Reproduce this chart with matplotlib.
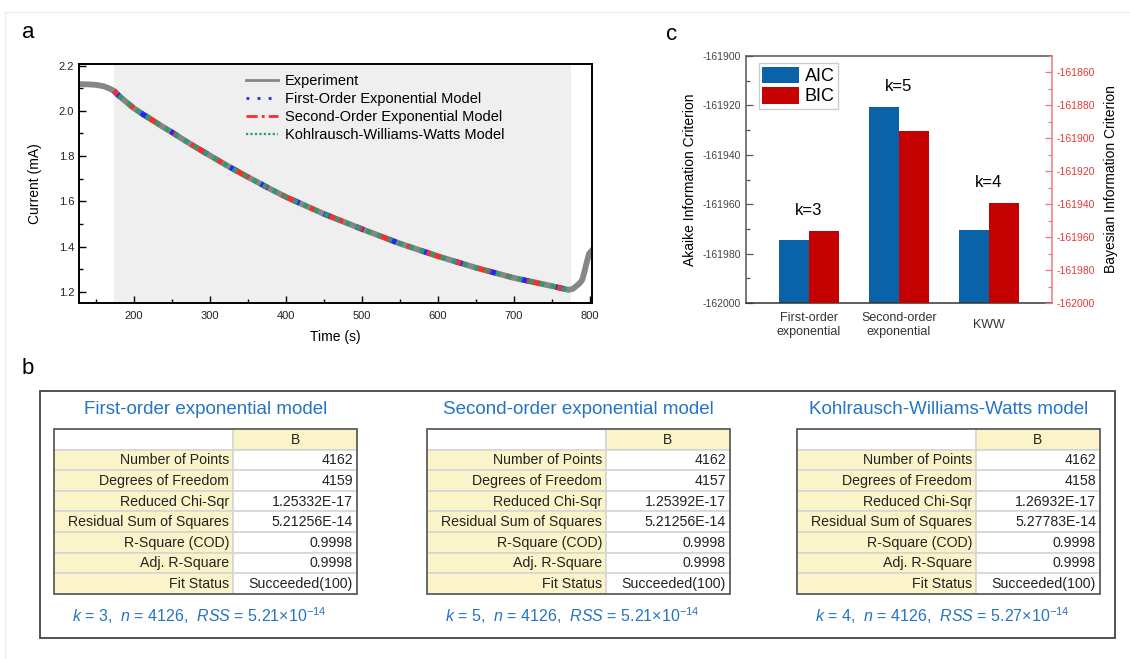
import numpy as np
import matplotlib
matplotlib.use('Agg')
import matplotlib.pyplot as plt
import matplotlib.ticker as mticker
from matplotlib.patches import Rectangle
from matplotlib.lines import Line2D

plt.rcParams['font.family'] = ['Liberation Sans', 'DejaVu Sans']
plt.rcParams['mathtext.fontset'] = 'custom'
plt.rcParams['mathtext.rm'] = 'Liberation Sans'
plt.rcParams['mathtext.it'] = 'Liberation Sans:italic'

# (a) current transient and the fitted window
EXP_TIME = [128, 140, 150, 160, 168, 174, 180, 190, 200, 212, 225, 237, 250,
            262, 275, 300, 325, 350, 375, 400, 450, 500, 550, 600, 650, 700,
            750, 772, 778, 786, 790, 793, 796, 799, 805]
EXP_CURRENT = [2.118, 2.117, 2.115, 2.109, 2.099, 2.088, 2.068, 2.040, 2.012,
               1.985, 1.958, 1.932, 1.906, 1.880, 1.853, 1.803, 1.754, 1.708,
               1.663, 1.620, 1.545, 1.478, 1.414, 1.358, 1.307, 1.262, 1.226,
               1.209, 1.214, 1.236, 1.252, 1.288, 1.330, 1.368, 1.392]
FIT_WINDOW = (174, 775)
FIT_RANGE = (174, 772)
FIT_NAMES = ['First-Order Exponential Model', 'Second-Order Exponential Model',
             'Kohlrausch-Williams-Watts Model']

# (b) fit statistics
TABLE_TITLES = ['First-order exponential model', 'Second-order exponential model',
                'Kohlrausch-Williams-Watts model']
ROW_NAMES = ['Number of Points', 'Degrees of Freedom', 'Reduced Chi-Sqr',
             'Residual Sum of Squares', 'R-Square (COD)', 'Adj. R-Square', 'Fit Status']
TABLE_VALUES = [
    ['4162', '4159', '1.25332E-17', '5.21256E-14', '0.9998', '0.9998', 'Succeeded(100)'],
    ['4162', '4157', '1.25392E-17', '5.21256E-14', '0.9998', '0.9998', 'Succeeded(100)'],
    ['4162', '4158', '1.26932E-17', '5.27783E-14', '0.9998', '0.9998', 'Succeeded(100)'],
]
K_PARAMS = [3, 5, 4]
N_USED = 4126
RSS_MANTISSA = ['5.21', '5.21', '5.27']

# (c) information criteria
MODELS = ['First-order\nexponential', 'Second-order\nexponential', 'KWW']
AIC = [-161974.3, -161920.5, -161970.5]
BIC = [-161956.0, -161895.8, -161939.2]

W_PX, H_PX = 1130, 659
BLUE_TXT = '#2474c4'
YELLOW = '#faf4c8'
GRID = '#d6d6d6'


def px_axes(fig, left, top, right, bottom, **kw):
    """Add axes from pixel edges measured from the top-left corner."""
    return fig.add_axes([left / W_PX, 1 - bottom / H_PX,
                         (right - left) / W_PX, (bottom - top) / H_PX], **kw)


fig = plt.figure(figsize=(W_PX / 100, H_PX / 100), dpi=100)

# Full-figure overlay in pixel units for the tables and panel letters.
ov = fig.add_axes([0, 0, 1, 1], zorder=-1)
ov.set_xlim(0, W_PX)
ov.set_ylim(H_PX, 0)
ov.axis('off')
ov.plot([5, W_PX], [12, 12], color='#ececec', lw=1)
ov.plot([5, 5], [12, H_PX], color='#ececec', lw=1)
ov.text(28, 33, 'a', fontsize=16, ha='center', va='center')
ov.text(28, 369, 'b', fontsize=16, ha='center', va='center')
ov.text(672, 35, 'c', fontsize=16, ha='center', va='center')

# ---- panel a ----
ax_a = px_axes(fig, 79, 64, 592, 303)
ax_a.axvspan(*FIT_WINDOW, color='#efefef', lw=0, zorder=0)
t = np.array(EXP_TIME)
cur = np.array(EXP_CURRENT)
ax_a.plot(t, cur, color='#868686', lw=4.2, solid_capstyle='round', zorder=2)

sel = (t >= FIT_RANGE[0]) & (t <= FIT_RANGE[1])
fit_styles = [('#1c28ff', 3.8, (0, (1.6, 5.0))),
              ('#ff2a2a', 3.6, (2.0, (3.0, 3.2, 1.0, 3.2))),
              ('#2e9a6c', 3.4, (1.0, (1.0, 1.4)))]
for color, lw, ls in fit_styles:
    ax_a.plot(t[sel], cur[sel], color=color, lw=lw, linestyle=ls, zorder=3)

handles = [Line2D([], [], color='#868686', lw=2)]
handles += [Line2D([], [], color='#1c28ff', lw=2, linestyle=(0, (1, 3))),
            Line2D([], [], color='#ff2a2a', lw=2, linestyle=(0, (4, 1.5, 1, 1.5))),
            Line2D([], [], color='#2e9a6c', lw=1.6, linestyle=(0, (1, 1)))]
ax_a.legend(handles, ['Experiment'] + FIT_NAMES, loc='upper left',
            bbox_to_anchor=(0.305, 1.0), frameon=False, fontsize=10.5,
            handlelength=2.2, handletextpad=0.5, labelspacing=0.28, borderaxespad=0.3)

ax_a.set_xlim(128, 803)
ax_a.set_ylim(1.151, 2.207)
ax_a.xaxis.set_major_locator(mticker.MultipleLocator(100))
ax_a.xaxis.set_minor_locator(mticker.MultipleLocator(50))
ax_a.yaxis.set_major_locator(mticker.MultipleLocator(0.2))
ax_a.yaxis.set_minor_locator(mticker.MultipleLocator(0.1))
ax_a.yaxis.set_major_formatter(mticker.FormatStrFormatter('%.1f'))
ax_a.tick_params(which='both', direction='in', top=False, right=False,
                 labelsize=8, width=1, labelcolor='#222')
ax_a.tick_params(which='major', length=5)
ax_a.tick_params(axis='x', pad=6)
ax_a.tick_params(which='minor', length=3)
for s in ax_a.spines.values():
    s.set_linewidth(1.4)
ax_a.set_xlabel('Time (s)', fontsize=10, labelpad=6)
ax_a.set_ylabel('Current (mA)', fontsize=10, labelpad=12)

# ---- panel c ----
ax_c = px_axes(fig, 746, 56, 1052, 303)
ax_r = ax_c.twinx()
x = np.arange(len(MODELS))
w = 1 / 3
base = -162000
aic_bars = ax_c.bar(x - w / 2, np.array(AIC) - base, w, bottom=base,
                    color='#0a63a8', zorder=2)
bic_bars = ax_r.bar(x + w / 2, np.array(BIC) - base, w, bottom=base,
                    color='#c40000', zorder=2)
ax_c.set_xlim(-0.7, 2.7)
ax_c.set_ylim(-162000, -161900)
ax_r.set_ylim(-162000, -161850)

for ax in (ax_c, ax_r):
    ax.yaxis.set_major_locator(mticker.MultipleLocator(20))
    ax.yaxis.set_minor_locator(mticker.MultipleLocator(10))
    ax.yaxis.set_major_formatter(mticker.FormatStrFormatter('%d'))

ax_c.tick_params(axis='y', which='both', direction='in', labelsize=7.5,
                 labelcolor='#444', color='#555', width=0.9)
ax_c.tick_params(axis='y', which='major', length=5)
ax_c.tick_params(axis='y', which='minor', length=3)
ax_r.tick_params(axis='y', which='both', direction='in', labelsize=7.5,
                 labelcolor='#e03a3a', color='#f07a7a', width=0.9)
ax_r.tick_params(axis='y', which='major', length=5)
ax_r.tick_params(axis='y', which='minor', length=3)

ax_c.set_xticks(x)
ax_c.set_xticklabels(MODELS, fontsize=9, color='#333', linespacing=1.25)
ax_c.tick_params(axis='x', length=0, pad=16)
plt.setp(ax_c.get_xticklabels(), va='center')

ax_c.spines['right'].set_visible(False)
for side in ('left', 'top', 'bottom'):
    ax_r.spines[side].set_visible(False)
ax_c.spines['left'].set_color('#555')
ax_c.spines['top'].set_color('#555')
ax_c.spines['bottom'].set_color('#333')
ax_r.spines['right'].set_color('#f07a7a')
for s in list(ax_c.spines.values()) + [ax_r.spines['right']]:
    s.set_linewidth(1.1)

ax_c.set_ylabel('Akaike Information Criterion', fontsize=10, labelpad=4)
ax_r.set_ylabel('Bayesian Information Criterion', fontsize=10, labelpad=6)

# parameter count above the taller bar of each pair
for xi, k, a, b in zip(x, K_PARAMS, AIC, BIC):
    top = max((a - base) / 100, (b - base) / 150)
    ax_r.annotate(f'k={k}', xy=(xi, top), xycoords=('data', 'axes fraction'),
                  xytext=(0, 14.5), textcoords='offset points',
                  ha='center', va='center', fontsize=12)

ax_r.legend([aic_bars, bic_bars], ['AIC', 'BIC'], loc='upper left',
            bbox_to_anchor=(0.042, 0.972), borderaxespad=0, fontsize=13,
            handlelength=2.0, handleheight=1.05, handletextpad=0.35,
            labelspacing=0.1, borderpad=0.2, fancybox=False,
            edgecolor='#cccccc', framealpha=1)

# ---- panel b ----
ov.add_patch(Rectangle((40, 391), 1075, 247, fill=False, ec='#444', lw=1.3))
TABLE_LEFTS = [54, 427, 797]
TAB_W, LAB_W, ROW_H, TAB_TOP = 303, 179, 20.6, 429
for j, left in enumerate(TABLE_LEFTS):
    cx = left + TAB_W / 2
    ov.text(cx, 409, TABLE_TITLES[j], color=BLUE_TXT, fontsize=13.5,
            ha='center', va='center')
    rows = [('', 'B')] + list(zip(ROW_NAMES, TABLE_VALUES[j]))
    for i, (name, val) in enumerate(rows):
        y = TAB_TOP + i * ROW_H
        ov.add_patch(Rectangle((left, y), LAB_W, ROW_H,
                               fc='white' if i == 0 else YELLOW, ec=GRID, lw=1.2))
        ov.add_patch(Rectangle((left + LAB_W, y), TAB_W - LAB_W, ROW_H,
                               fc=YELLOW if i == 0 else 'white', ec=GRID, lw=1.2))
        yc = y + ROW_H / 2 + 0.5
        if i == 0:
            ov.text(left + LAB_W + (TAB_W - LAB_W) / 2, yc, val, fontsize=10,
                    ha='center', va='center', color='#222')
        else:
            ov.text(left + LAB_W - 4, yc, name, fontsize=10.2,
                    ha='right', va='center', color='#222')
            ov.text(left + TAB_W - 4, yc, val, fontsize=10.2,
                    ha='right', va='center', color='#222')
    ov.add_patch(Rectangle((left, TAB_TOP), TAB_W, len(rows) * ROW_H,
                           fill=False, ec='#555', lw=1.2))
    footer = (rf'$k$ = {K_PARAMS[j]},  $n$ = {N_USED},  $RSS$ = '
              rf'{RSS_MANTISSA[j]}×10$^{{-14}}$')
    ov.text(cx - 6, 616, footer, color=BLUE_TXT, fontsize=11.5,
            ha='center', va='center')

fig.savefig('out.png', dpi=100)
